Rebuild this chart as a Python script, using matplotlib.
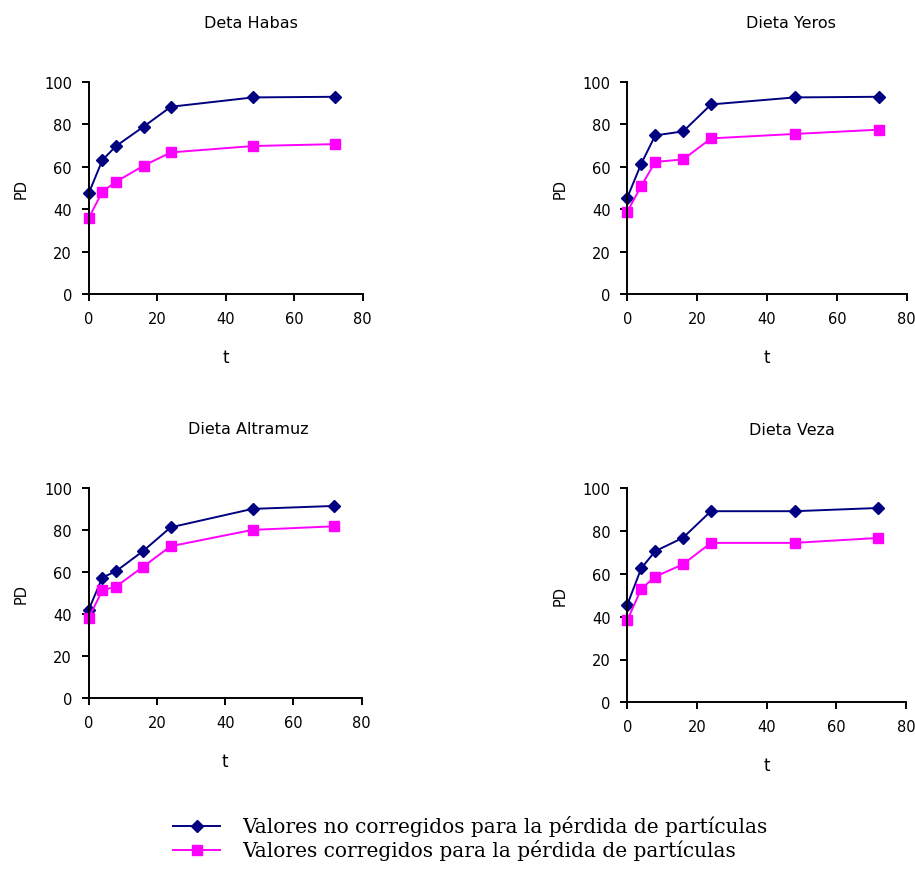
import numpy as np
import matplotlib
matplotlib.use('Agg')
import matplotlib.pyplot as plt
from matplotlib.lines import Line2D

# sampling times (h)
t = [0, 4, 8, 16, 24, 48, 72]

titles = ['Deta Habas', 'Dieta Yeros', 'Dieta Altramuz', 'Dieta Veza']

# PD values not corrected for particle loss
noCorr = [
    [47.4, 63.1, 69.7, 78.8, 88.2, 92.6, 92.9],
    [45.4, 61.4, 74.7, 76.6, 89.3, 92.6, 92.9],
    [42.2, 57.5, 60.5, 70.2, 81.4, 90.2, 91.6],
    [45.6, 62.6, 70.6, 76.9, 89.3, 89.3, 90.8],
]

# PD values corrected for particle loss
corr = [
    [35.8, 48.2, 52.9, 60.4, 66.7, 69.7, 70.6],
    [38.8, 50.9, 62.2, 63.4, 73.3, 75.4, 77.4],
    [38.3, 51.4, 53.2, 62.7, 72.4, 80.2, 81.9],
    [38.3, 53.0, 58.7, 64.5, 74.5, 74.5, 76.8],
]

legendLabels = ['Valores no corregidos para la pérdida de partículas',
                'Valores corregidos para la pérdida de partículas']

navy = '#000080'
magenta = '#FF00FF'

W, H = 915, 870
fig = plt.figure(figsize=(W/100, H/100), dpi=100)
plt.rcParams['font.family'] = ['DejaVu Sans']

# axes boxes in pixels: left, right, top (y=100), bottom (y=0)
boxes = [(88.7, 362.7, 82.7, 295.0),
         (627.3, 906.7, 82.7, 295.0),
         (88.7, 361.7, 489.3, 699.3),
         (627.3, 906.0, 489.3, 703.3)]
titlePos = [(251, 24), (791, 24), (248, 430), (792, 431)]

for i in range(4):
    l, r, tp, b = boxes[i]
    ax = fig.add_axes([l/W, 1 - b/H, (r - l)/W, (b - tp)/H])
    ax.plot(t, noCorr[i], color=navy, lw=1.4, marker='D', ms=6.5,
            mfc=navy, mec=navy, clip_on=False)
    ax.plot(t, corr[i], color=magenta, lw=1.4, marker='s', ms=7.5,
            mfc=magenta, mec=magenta, clip_on=False)
    ax.set_xlim(0, 80)
    ax.set_ylim(0, 100)
    ax.set_xticks(range(0, 81, 20))
    ax.set_yticks(range(0, 101, 20))
    ax.spines['top'].set_visible(False)
    ax.spines['right'].set_visible(False)
    for s in ('left', 'bottom'):
        ax.spines[s].set_linewidth(1.4)
    ax.tick_params(direction='out', length=5, width=1.4, labelsize=10.5,
                   pad=7, colors='black')
    ax.set_xlabel('t', fontsize=12, labelpad=16)
    ax.set_ylabel('PD', fontsize=10.5, labelpad=11)
    fig.text(titlePos[i][0]/W, 1 - titlePos[i][1]/H, titles[i],
             ha='center', va='center', fontsize=11.5)

# legend drawn in figure pixels below the four panels
legY = [827, 851]
colors = [navy, magenta]
markers = [('D', 6), ('s', 7)]
for y, lab, c, (m, ms) in zip(legY, legendLabels, colors, markers):
    fy = 1 - y/H
    fig.add_artist(Line2D([173/W, 220/W], [fy, fy], lw=1.4, color=c,
                          transform=fig.transFigure))
    fig.add_artist(Line2D([196.5/W], [fy], lw=0, marker=m, ms=ms,
                          mfc=c, mec=c, transform=fig.transFigure))
    fig.text(242/W, fy, lab, ha='left', va='center',
             family='DejaVu Serif', fontsize=14.5)

fig.savefig('out.png', dpi=100)
